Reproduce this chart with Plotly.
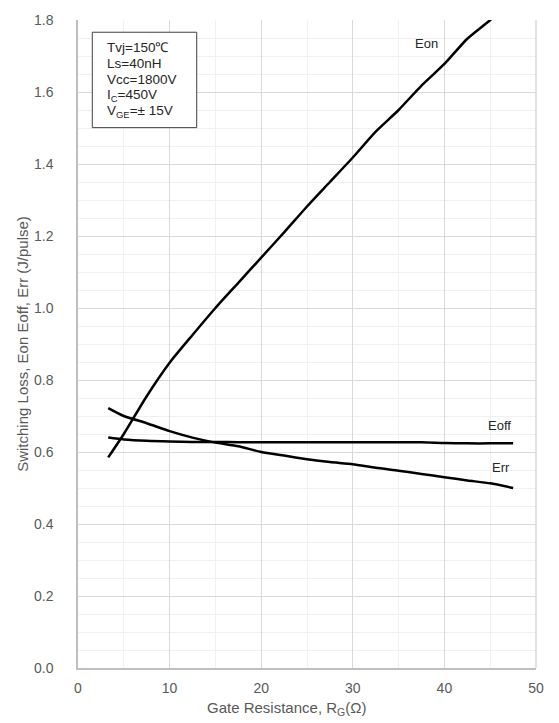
import plotly.graph_objects as go

rg = [3.3, 5, 7.5, 10, 12.5, 15, 17.5, 20, 22.5, 25, 27.5, 30, 32.5, 35, 37.5, 40, 42.5, 45, 47.5]
eon = [0.585, 0.65, 0.755, 0.848, 0.925, 1.0, 1.07, 1.14, 1.21, 1.282, 1.35, 1.418, 1.49, 1.55, 1.618, 1.678, 1.748, 1.80, 1.86]
eoff = [0.64, 0.635, 0.631, 0.629, 0.628, 0.628, 0.627, 0.627, 0.627, 0.627, 0.627, 0.627, 0.627, 0.627, 0.627, 0.625, 0.624, 0.624, 0.624]
err = [0.722, 0.70, 0.68, 0.658, 0.64, 0.626, 0.616, 0.60, 0.59, 0.58, 0.572, 0.566, 0.556, 0.548, 0.539, 0.53, 0.521, 0.513, 0.50]

series_names = ["Eon", "Eoff", "Err"]
label_pos = [(38.0, 1.735), (46.0, 0.675), (46.2, 0.558)]
cond_lines = ["Tvj=150\u2103", "Ls=40nH", "Vcc=1800V", "I<sub>C</sub>=450V", "V<sub>GE</sub>=\u00b1 15V"]

x_ticks = [0, 10, 20, 30, 40, 50]
y_ticks = [0.0, 0.2, 0.4, 0.6, 0.8, 1.0, 1.2, 1.4, 1.6, 1.8]

fig = go.Figure()
for name, ys in zip(series_names, [eon, eoff, err]):
    fig.add_trace(go.Scatter(x=rg, y=ys, mode="lines", name=name, line_shape="spline",
                             line=dict(color="black", width=2.5, smoothing=0.6), showlegend=False))

font_fam = "Liberation Sans, Arial, sans-serif"
for name, (lx, ly) in zip(series_names, label_pos):
    fig.add_annotation(x=lx, y=ly, text=name, showarrow=False,
                       font=dict(family=font_fam, size=13, color="#262626"))

# condition box
fig.add_shape(type="rect", xref="x", yref="y", x0=1.56, x1=12.96, y0=1.501, y1=1.766,
              line=dict(color="#404040", width=1), fillcolor="white", layer="above")
for i, t in enumerate(cond_lines):
    fig.add_annotation(x=2.9, y=1.724 - i * 0.0445, text=t, showarrow=False,
                       xanchor="left", yanchor="middle",
                       font=dict(family=font_fam, size=13.5, color="#262626"))

fig.add_annotation(xref="paper", yref="paper", x=0.456, y=-0.062, yanchor="middle",
                   text="Gate Resistance, R<sub>G</sub>(\u03a9)", showarrow=False,
                   font=dict(family=font_fam, size=15, color="#595959"))

fig.update_layout(
    width=559, height=723,
    margin=dict(l=78, r=23, t=12, b=55),
    paper_bgcolor="white", plot_bgcolor="white",
    font=dict(family=font_fam, size=14, color="#595959"),
)
fig.update_xaxes(range=[0, 50], tickvals=x_ticks, showgrid=True, gridcolor="#d9d9d9", gridwidth=1,
                 minor=dict(dtick=5, showgrid=True, gridcolor="#f0f0f0", gridwidth=1),
                 showline=True, linecolor="#bfbfbf", linewidth=1.5, mirror=False,
                 zeroline=False, ticks="", ticklabelstandoff=6,
                 tickfont=dict(size=14, color="#595959"))
fig.update_yaxes(range=[0, 1.8], tickvals=y_ticks, tickformat=".1f", showgrid=True,
                 gridcolor="#d9d9d9", gridwidth=1,
                 minor=dict(dtick=0.05, showgrid=True, gridcolor="#f0f0f0", gridwidth=1),
                 showline=True, linecolor="#bfbfbf", linewidth=1.5,
                 zeroline=False, ticks="", ticklabelstandoff=20,
                 tickfont=dict(size=14, color="#595959"),
                 title=dict(text="Switching Loss, Eon Eoff, Err (J/pulse)", standoff=2,
                            font=dict(size=15, color="#595959")))
# right border line of plot area
fig.add_shape(type="line", xref="paper", yref="paper", x0=1, x1=1, y0=0, y1=1,
              line=dict(color="#d9d9d9", width=1.5))
fig.write_html("out.html")
